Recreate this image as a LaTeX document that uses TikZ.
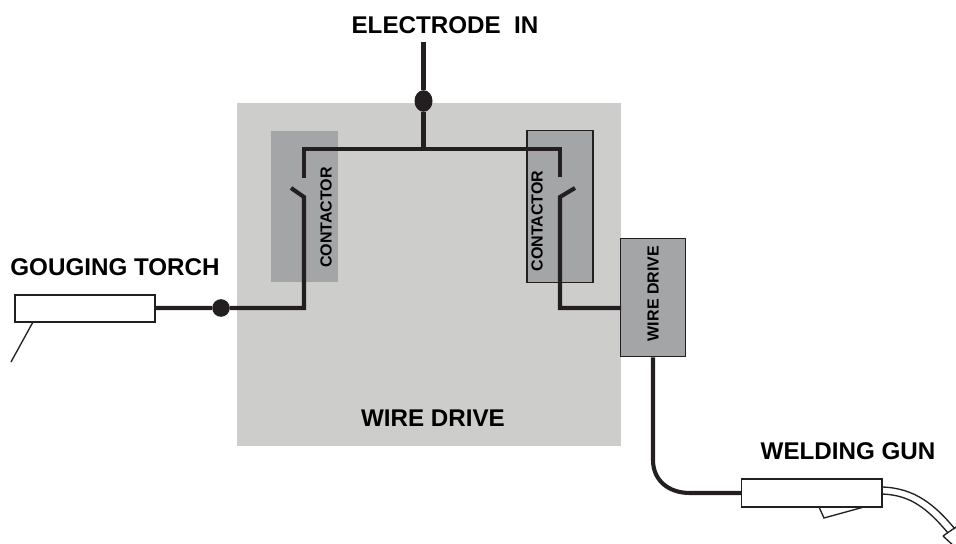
\documentclass[tikz,border=0pt]{standalone}
\usepackage{fontspec}
\setmainfont{Liberation Sans}
\usetikzlibrary{calc,positioning,shapes.geometric}
\definecolor{housegray}{HTML}{CDCDCC}
\definecolor{unitgray}{HTML}{A3A5A7}
\definecolor{wireblack}{HTML}{231F20}

\begin{document}
\begin{tikzpicture}[
  x=0.025cm,y=-0.025cm,
  wire/.style={line width=2.9pt,draw=wireblack},
  thin wire/.style={line width=0.95pt,draw=wireblack},
  title/.style={font=\fontsize{17.2}{20}\selectfont\bfseries,inner sep=0pt},
  small/.style={font=\fontsize{11.4}{13}\selectfont\bfseries,inner sep=0pt,rotate=90},
  housing/.style={fill=housegray,draw=none,minimum width=9.6cm,minimum height=8.575cm,inner sep=0pt},
  contactor/.style={fill=unitgray,minimum width=1.65cm,minimum height=3.78cm,inner sep=0pt},
  drive/.style={fill=unitgray,draw=wireblack,line width=0.8pt,minimum width=1.63cm,minimum height=2.97cm,inner sep=0pt},
  tool/.style={fill=white,draw=wireblack,line width=1.4pt,minimum width=3.5cm,minimum height=0.68cm,inner sep=0pt},
  joint/.style={circle,fill=wireblack,inner sep=0pt,minimum size=0.44cm},
]
\useasboundingbox (0,0) rectangle (956,544);

%% ===== Boxes =================================================================
\node[housing] (housing) at (429,274.5) {};
\node[contactor] (conL) at (304.5,206.5) {};
\node[contactor,draw=wireblack,line width=0.8pt] (conR) at (560,206.5) {};
\node[drive] (drive) at (653,297.5) {};

%% ===== Wiring ================================================================
\node[joint,ellipse,minimum width=0.45cm,minimum height=0.54cm] (jtop) at (423.5,101) {};
\node[joint] (jleft) at (221,308) {};
\coordinate (in) at (423.5,42);
\coordinate (tee) at (423.5,149);

\draw[wire] (in) -- (jtop) -- (tee);
\draw[wire] (304,178) |- (560,149) -- (560,177);
\draw[wire] (291,188) -- (304,197) -- (304,308) -- (jleft) -- (155,308);
\draw[wire] (575,188) -- (560,197) -- (560,308) -- (621,308);
\draw[wire] (drive.south) -- (653,460) .. controls (653,480) and (668,493) .. (690,493)
            -- (741,493);

%% ===== Torch and gun =========================================================
\draw[thin wire] (33,322) -- (11,362);
\draw[thin wire] (819,507) -- (824,518) -- (864,507);
\node[tool] (torch) at (85,308.5) {};
\node[tool] (gun) at (811.5,493) {};
\draw[thin wire] (882,487) .. controls (915,488) and (935,505) .. (955,529);
\draw[thin wire] (882,494) .. controls (910,495) and (927,508) .. (948,533);
\draw[thin wire] (943,536) -- (956,527);
\draw[thin wire] (943,536) -- (956,548);

%% ===== Labels ================================================================
\node[title] (lblin) at (445,25) {ELECTRODE\ \ IN};
\node[title] (lbltorch) at (115,267) {GOUGING TORCH};
\node[title] (lblhouse) at (433,418) {WIRE DRIVE};
\node[title] (lblgun) at (848,451) {WELDING GUN};
\node[small] (lblconL) at (326,217.5) {CONTACTOR};
\node[small] (lblconR) at (537,221) {CONTACTOR};
\node[small] (lbldrive) at (653,293.5) {WIRE DRIVE};

\end{tikzpicture}
\end{document}
